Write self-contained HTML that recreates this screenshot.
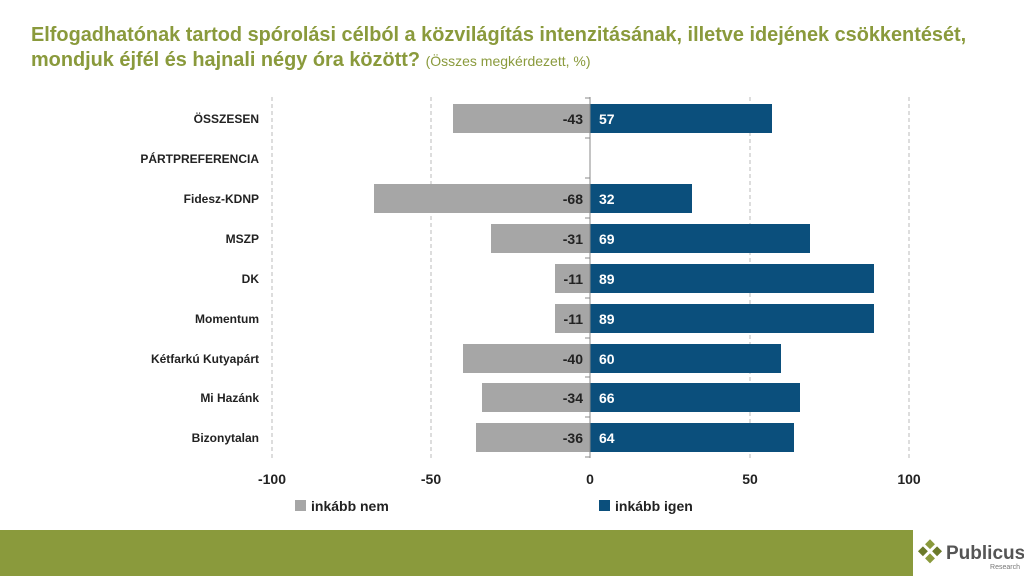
<!DOCTYPE html>
<html><head><meta charset="utf-8"><style>
body{margin:0;width:1024px;height:576px;overflow:hidden;background:#fff;font-family:"Liberation Sans",sans-serif}
</style></head><body>
<svg width="1024" height="576" xmlns="http://www.w3.org/2000/svg" font-family="Liberation Sans, sans-serif">
<text x="31" y="41" font-size="19.9" font-weight="bold" fill="#8a9a3c">Elfogadhatónak tartod spórolási célból a közvilágítás intenzitásának, illetve idejének csökkentését,</text>
<text x="31" y="66" font-size="19.9" font-weight="bold" fill="#8a9a3c">mondjuk éjfél és hajnali négy óra között? <tspan font-size="14" font-weight="normal">(Összes megkérdezett, %)</tspan></text>
<g stroke="#bbb" stroke-dasharray="4,3" stroke-width="1">
<line x1="272" y1="97" x2="272" y2="458"/><line x1="431" y1="97" x2="431" y2="458"/>
<line x1="750" y1="97" x2="750" y2="458"/><line x1="909" y1="97" x2="909" y2="458"/>
</g>
<g font-size="13" font-weight="bold">
<g fill="#a6a6a6">
<rect x="453" y="104" width="137" height="29"/>
<rect x="374" y="184" width="216" height="29"/>
<rect x="491" y="224" width="99" height="29"/>
<rect x="555" y="264" width="35" height="29"/>
<rect x="555" y="304" width="35" height="29"/>
<rect x="463" y="344" width="127" height="29"/>
<rect x="482" y="383" width="108" height="29"/>
<rect x="476" y="423" width="114" height="29"/>
</g>
<g fill="#0b4f7c">
<rect x="590" y="104" width="182" height="29"/>
<rect x="590" y="184" width="102" height="29"/>
<rect x="590" y="224" width="220" height="29"/>
<rect x="590" y="264" width="284" height="29"/>
<rect x="590" y="304" width="284" height="29"/>
<rect x="590" y="344" width="191" height="29"/>
<rect x="590" y="383" width="210" height="29"/>
<rect x="590" y="423" width="204" height="29"/>
</g>
<line x1="590" y1="97" x2="590" y2="458" stroke="#888"/>
<g stroke="#888"><line x1="585" y1="98" x2="590" y2="98"/><line x1="585" y1="138" x2="590" y2="138"/><line x1="585" y1="178" x2="590" y2="178"/><line x1="585" y1="218" x2="590" y2="218"/><line x1="585" y1="258" x2="590" y2="258"/><line x1="585" y1="298" x2="590" y2="298"/><line x1="585" y1="338" x2="590" y2="338"/><line x1="585" y1="377" x2="590" y2="377"/><line x1="585" y1="417" x2="590" y2="417"/><line x1="585" y1="457" x2="590" y2="457"/></g>
<g fill="#222" text-anchor="end" font-size="14">
<text x="583" y="124">-43</text><text x="583" y="204">-68</text><text x="583" y="244">-31</text><text x="583" y="284">-11</text><text x="583" y="324">-11</text><text x="583" y="364">-40</text><text x="583" y="403">-34</text><text x="583" y="443">-36</text>
</g>
<g fill="#fff" font-size="14">
<text x="599" y="124">57</text><text x="599" y="204">32</text><text x="599" y="244">69</text><text x="599" y="284">89</text><text x="599" y="324">89</text><text x="599" y="364">60</text><text x="599" y="403">66</text><text x="599" y="443">64</text>
</g>
<g fill="#222" text-anchor="end" font-size="12">
<text x="259" y="123">ÖSSZESEN</text><text x="259" y="163">PÁRTPREFERENCIA</text><text x="259" y="203">Fidesz-KDNP</text><text x="259" y="243">MSZP</text><text x="259" y="283">DK</text><text x="259" y="323">Momentum</text><text x="259" y="363">Kétfarkú Kutyapárt</text><text x="259" y="402">Mi Hazánk</text><text x="259" y="442">Bizonytalan</text>
</g>
<g fill="#222" text-anchor="middle" font-size="14">
<text x="272" y="484">-100</text><text x="431" y="484">-50</text><text x="590" y="484">0</text><text x="750" y="484">50</text><text x="909" y="484">100</text>
</g>
<rect x="295" y="500" width="11" height="11" fill="#a6a6a6"/><text x="311" y="511" font-size="14" fill="#222">inkább nem</text>
<rect x="599" y="500" width="11" height="11" fill="#0b4f7c"/><text x="615" y="511" font-size="14" fill="#222">inkább igen</text>
</g>
<rect x="0" y="530" width="913" height="46" fill="#8a9a3c"/>
<g transform="translate(930,552) rotate(45)" fill="#8a9a3c">
<rect x="-9" y="-9" width="7" height="7"/><rect x="1" y="-9" width="7" height="7" fill="#6b7a2a"/><rect x="-9" y="1" width="7" height="7" fill="#6b7a2a"/><rect x="1" y="1" width="7" height="7"/>
</g>
<text x="946" y="559" font-size="19" font-weight="bold" fill="#555">Publicus</text>
<text x="1020" y="569" font-size="7" fill="#777" text-anchor="end">Research</text>
</svg>
</body></html>
